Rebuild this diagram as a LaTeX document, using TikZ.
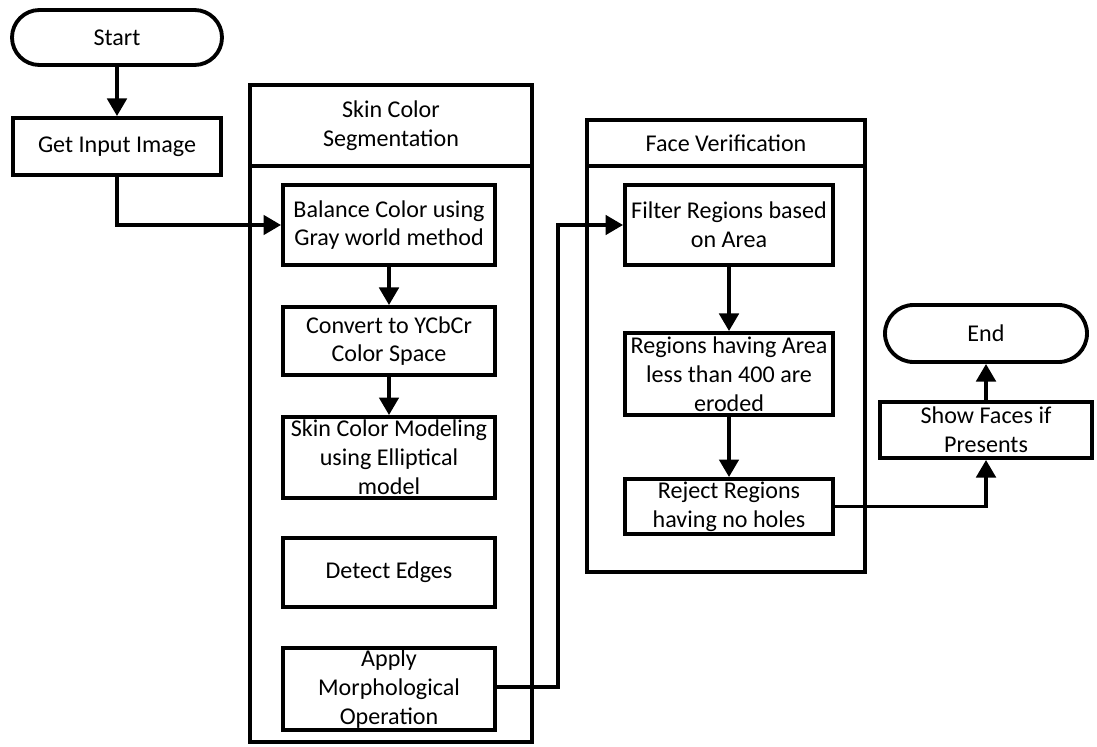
\documentclass[tikz,border=0pt]{standalone}
\usepackage{fontspec}
\setmainfont{Carlito}
\usetikzlibrary{arrows.meta,shapes.misc}
\begin{document}
\begin{tikzpicture}[x=0.02cm,y=-0.02cm]
			\tikzstyle{trait}=[line width=2.2pt]
			\tikzstyle{fleche}=[trait,-{Triangle[width=11pt,length=10pt]}]
			\tikzstyle{boite}=[draw,trait,align=center,inner sep=0pt,font=\fontsize{13.7}{16.4}\selectfont]
			\tikzstyle{terminal}=[boite,rounded rectangle]
			\tikzstyle{cadre}=[draw,trait,inner sep=0pt]
			\def\px{0.02cm}
			\useasboundingbox (0,0) rectangle (1097,746);
			% couloirs
			\node[cadre,minimum width=282*\px,minimum height=657*\px] (Segmentation) at (391,413.5) {};
			\node[boite,minimum width=282*\px,minimum height=81*\px] (SegmentationTitre) at (391,125.5) {Skin Color\\Segmentation};
			\node[cadre,minimum width=278*\px,minimum height=452*\px] (Verification) at (726,346) {};
			\node[boite,minimum width=278*\px,minimum height=46*\px] (VerificationTitre) at (726,143) {Face Verification};
			% noeuds
			\node[terminal,minimum width=210*\px,minimum height=55*\px] (Debut) at (117,37.5) {Start};
			\node[boite,minimum width=208*\px,minimum height=57*\px] (Image) at (117,146.5) {Get Input Image};
			\node[boite,minimum width=212*\px,minimum height=80*\px] (Balance) at (389,225) {Balance Color using\\Gray world method};
			\node[boite,minimum width=212*\px,minimum height=68*\px] (Conversion) at (389,341) {Convert to YCbCr\\Color Space};
			\node[boite,minimum width=212*\px,minimum height=81*\px] (Modele) at (389,457.5) {Skin Color Modeling\\using Elliptical\\model};
			\node[boite,minimum width=212*\px,minimum height=69*\px] (Contours) at (389,572.5) {Detect Edges};
			\node[boite,minimum width=212*\px,minimum height=82*\px] (Morpho) at (389,689) {Apply\\Morphological\\Operation};
			\node[boite,minimum width=208*\px,minimum height=80*\px] (Filtre) at (729,225) {Filter Regions based\\on Area};
			\node[boite,minimum width=208*\px,minimum height=82*\px] (Erosion) at (729,374) {Regions having Area\\less than 400 are\\eroded};
			\node[boite,minimum width=208*\px,minimum height=55*\px] (Rejet) at (729,506.5) {Reject Regions\\having no holes};
			\node[boite,minimum width=212*\px,minimum height=56*\px] (Visages) at (986,430) {Show Faces if\\Presents};
			\node[terminal,minimum width=202*\px,minimum height=57*\px] (Fin) at (986,333.5) {End};
			\coordinate (Coude) at (558,687);
			% liaisons
			\draw[fleche] (Debut)--(Image) ; \draw[fleche] (Image.south)|-(Balance.west) ;
			\draw[fleche] (Balance)--(Conversion) ; \draw[fleche] (Conversion)--(Modele) ;
			\draw[fleche] (Morpho.east|-Coude)--(Coude)|-(Filtre.west) ;
			\draw[fleche] (Filtre)--(Erosion) ; \draw[fleche] (Erosion)--(Rejet) ;
			\draw[fleche] (Rejet.east)-|(Visages.south) ; \draw[fleche] (Visages)--(Fin) ;
		\end{tikzpicture}
\end{document}
